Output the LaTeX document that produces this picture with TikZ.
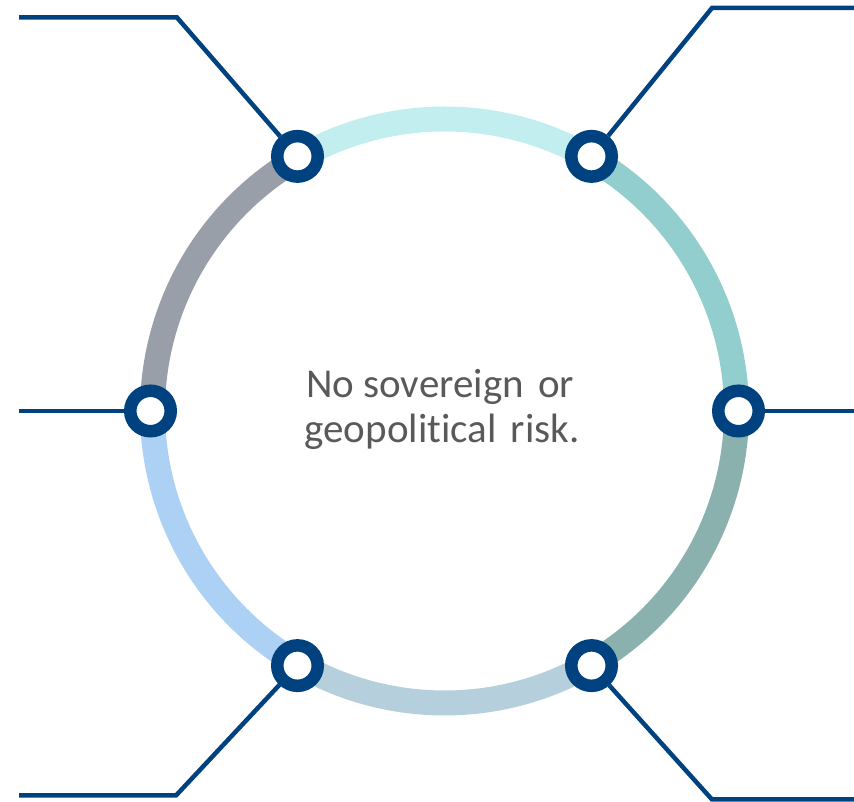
\documentclass[tikz,border=0pt]{standalone}
\usepackage{fontspec}
\setmainfont[Ligatures={NoCommon}]{Carlito}
\definecolor{nodeblue}{HTML}{00427F}
\definecolor{segtop}{HTML}{C3EEEF}
\definecolor{segur}{HTML}{93CECE}
\definecolor{seglr}{HTML}{8AB1AE}
\definecolor{segbot}{HTML}{B5D0DC}
\definecolor{segll}{HTML}{ACD1F4}
\definecolor{segul}{HTML}{989FA8}
\definecolor{txtgray}{HTML}{595959}
\tikzset{
  band/.style={line width=25pt, line cap=butt},
  hub/.style={circle, draw=nodeblue, fill=white, line width=12.5pt, minimum size=40.5pt, inner sep=0pt},
  leader/.style={draw=nodeblue, line width=4.5pt, line join=miter},
  txt/.style={text=txtgray, font=\fontsize{41}{45}\selectfont, inner sep=0pt, anchor=base}
}
\begin{document}
\begin{tikzpicture}[x=1pt,y=1pt]
\useasboundingbox (0,0) rectangle (854,802);
\coordinate (C) at (444.5,391);
% ring segments
\draw[band, segur]  ([shift={(0:292)}]C)   arc[start angle=0,   end angle=60,  radius=292];
\draw[band, segtop] ([shift={(60:292)}]C)  arc[start angle=60,  end angle=120, radius=292];
\draw[band, segul]  ([shift={(120:292)}]C) arc[start angle=120, end angle=180, radius=292];
\draw[band, segll]  ([shift={(180:292)}]C) arc[start angle=180, end angle=240, radius=292];
\draw[band, segbot] ([shift={(240:292)}]C) arc[start angle=240, end angle=300, radius=292];
\draw[band, seglr]  ([shift={(300:292)}]C) arc[start angle=300, end angle=360, radius=292];
% hubs
\node[hub] (ul) at ([shift={(120:294)}]C) {};
\node[hub] (ur) at ([shift={(60:294)}]C) {};
\node[hub] (l)  at ([shift={(180:294)}]C) {};
\node[hub] (r)  at ([shift={(0:294)}]C) {};
\node[hub] (ll) at ([shift={(240:294)}]C) {};
\node[hub] (lr) at ([shift={(300:294)}]C) {};
% leader end points
\coordinate (ulk) at (177,784.5);
\coordinate (ule) at (19,784.5);
\coordinate (urk) at (712,794);
\coordinate (ure) at (856,794);
\coordinate (le)  at (19,391);
\coordinate (re)  at (856,391);
\coordinate (llk) at (176,6.5);
\coordinate (lle) at (19,6.5);
\coordinate (lrk) at (712,2.5);
\coordinate (lre) at (856,2.5);
% leaders
\draw[leader] (ul) -- (ulk) -- (ule);
\draw[leader] (ur) -- (urk) -- (ure);
\draw[leader] (l) -- (le);
\draw[leader] (r) -- (re);
\draw[leader] (ll) -- (llk) -- (lle);
\draw[leader] (lr) -- (lrk) -- (lre);
% centre text
\node[txt] (t1) at (440,404) {No sovereign\hspace{0.12em} or};
\node[txt] (t2) at (442,359) {geopolitical\hspace{0.12em} risk.};
\end{tikzpicture}
\end{document}
